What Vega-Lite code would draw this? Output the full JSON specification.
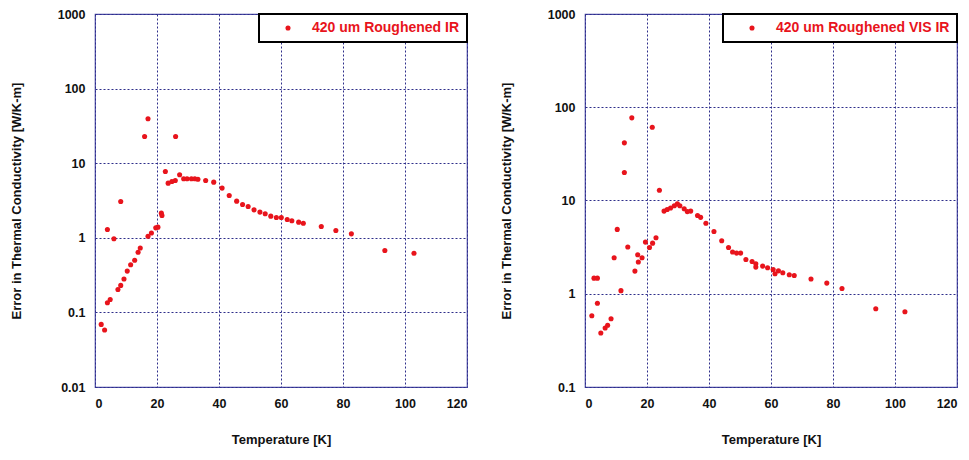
{
  "$schema": "https://vega.github.io/schema/vega-lite/v6.json",
  "background": "white",
  "padding": {"left": 9, "top": 7, "right": 5, "bottom": 5},
  "spacing": 30,
  "datasets": {
    "ir": [
      {"T": 2.0, "err": 0.069}, {"T": 3.1, "err": 0.058}, {"T": 4.0, "err": 0.135}, {"T": 4.9, "err": 0.149},
      {"T": 4.0, "err": 1.29}, {"T": 6.1, "err": 0.97}, {"T": 7.4, "err": 0.203}, {"T": 8.3, "err": 0.23},
      {"T": 8.3, "err": 3.07}, {"T": 9.35, "err": 0.28}, {"T": 10.4, "err": 0.358}, {"T": 11.5, "err": 0.435},
      {"T": 12.8, "err": 0.5}, {"T": 13.9, "err": 0.64}, {"T": 14.6, "err": 0.73}, {"T": 16.0, "err": 22.8},
      {"T": 17.1, "err": 39.4}, {"T": 17.1, "err": 1.05}, {"T": 18.2, "err": 1.16}, {"T": 19.6, "err": 1.36},
      {"T": 20.3, "err": 1.39}, {"T": 21.4, "err": 2.14}, {"T": 21.6, "err": 1.99}, {"T": 22.7, "err": 7.74},
      {"T": 23.6, "err": 5.4}, {"T": 24.8, "err": 5.69}, {"T": 25.9, "err": 5.87}, {"T": 26.0, "err": 22.8},
      {"T": 27.3, "err": 7.0}, {"T": 28.6, "err": 6.2}, {"T": 29.7, "err": 6.2}, {"T": 31.1, "err": 6.2},
      {"T": 32.2, "err": 6.2}, {"T": 33.2, "err": 6.1}, {"T": 35.7, "err": 5.87}, {"T": 38.3, "err": 5.57},
      {"T": 41.0, "err": 4.64}, {"T": 43.3, "err": 3.69}, {"T": 45.7, "err": 3.1}, {"T": 47.6, "err": 2.79},
      {"T": 49.4, "err": 2.63}, {"T": 51.3, "err": 2.37}, {"T": 53.2, "err": 2.21}, {"T": 54.9, "err": 2.1},
      {"T": 56.7, "err": 1.95}, {"T": 58.5, "err": 1.87}, {"T": 60.1, "err": 1.87}, {"T": 62.0, "err": 1.76},
      {"T": 63.5, "err": 1.69}, {"T": 65.7, "err": 1.62}, {"T": 67.2, "err": 1.57}, {"T": 73.0, "err": 1.42},
      {"T": 77.7, "err": 1.25}, {"T": 82.7, "err": 1.13}, {"T": 93.5, "err": 0.675}, {"T": 102.9, "err": 0.62}
    ],
    "visir": [
      {"T": 2.2, "err": 0.58}, {"T": 2.9, "err": 1.47}, {"T": 4.0, "err": 1.47}, {"T": 4.0, "err": 0.79},
      {"T": 5.1, "err": 0.38}, {"T": 6.5, "err": 0.43}, {"T": 7.3, "err": 0.46}, {"T": 8.4, "err": 0.54},
      {"T": 9.4, "err": 2.43}, {"T": 10.4, "err": 4.9}, {"T": 11.6, "err": 1.08}, {"T": 12.7, "err": 20},
      {"T": 12.7, "err": 41.5}, {"T": 13.8, "err": 3.17}, {"T": 15.1, "err": 77}, {"T": 16.1, "err": 1.75},
      {"T": 17.0, "err": 2.62}, {"T": 17.2, "err": 2.19}, {"T": 18.4, "err": 2.43}, {"T": 19.5, "err": 3.58},
      {"T": 20.8, "err": 3.13}, {"T": 21.7, "err": 61}, {"T": 21.8, "err": 3.49}, {"T": 22.9, "err": 3.98},
      {"T": 24.0, "err": 12.9}, {"T": 25.5, "err": 7.7}, {"T": 26.5, "err": 8.0}, {"T": 27.6, "err": 8.3},
      {"T": 28.8, "err": 8.8}, {"T": 29.8, "err": 9.2}, {"T": 30.6, "err": 8.8}, {"T": 32.0, "err": 8.15},
      {"T": 33.0, "err": 7.6}, {"T": 34.1, "err": 7.7}, {"T": 36.3, "err": 6.9}, {"T": 37.3, "err": 6.6},
      {"T": 39.0, "err": 5.7}, {"T": 41.6, "err": 4.65}, {"T": 44.1, "err": 3.7}, {"T": 46.3, "err": 3.13},
      {"T": 47.6, "err": 2.8}, {"T": 48.9, "err": 2.73}, {"T": 50.2, "err": 2.73}, {"T": 51.9, "err": 2.33},
      {"T": 53.9, "err": 2.22}, {"T": 55.1, "err": 2.1}, {"T": 55.1, "err": 1.93}, {"T": 57.3, "err": 1.98},
      {"T": 58.9, "err": 1.9}, {"T": 60.7, "err": 1.82}, {"T": 61.3, "err": 1.64}, {"T": 62.4, "err": 1.76},
      {"T": 63.8, "err": 1.68}, {"T": 65.9, "err": 1.6}, {"T": 67.5, "err": 1.57}, {"T": 72.9, "err": 1.44},
      {"T": 78.0, "err": 1.3}, {"T": 82.9, "err": 1.14}, {"T": 93.8, "err": 0.69}, {"T": 103.2, "err": 0.64}
    ]
  },
  "hconcat": [
    {
      "width": 372,
      "height": 373,
      "data": {"name": "ir"},
      "transform": [{"calculate": "'420 um Roughened IR'", "as": "series"}],
      "mark": {"type": "point", "filled": true, "size": 26, "opacity": 1},
      "encoding": {
        "x": {"field": "T", "type": "quantitative", "title": "Temperature [K]",
              "scale": {"domain": [0, 120], "nice": false},
              "axis": {"values": [0, 20, 40, 60, 80, 100, 120]}},
        "y": {"field": "err", "type": "quantitative", "title": "Error in Thermal Conductivity [W/K-m]",
              "scale": {"type": "log", "domain": [0.01, 1000], "nice": false},
              "axis": {"values": [0.01, 0.1, 1, 10, 100, 1000], "format": "~g"}},
        "color": {"field": "series", "type": "nominal",
                  "scale": {"range": ["#e8141c"]},
                  "legend": {"title": null, "orient": "top-right", "offset": 0}}
      }
    },
    {
      "width": 372,
      "height": 373,
      "data": {"name": "visir"},
      "transform": [{"calculate": "'420 um Roughened VIS IR'", "as": "series"}],
      "mark": {"type": "point", "filled": true, "size": 26, "opacity": 1},
      "encoding": {
        "x": {"field": "T", "type": "quantitative", "title": "Temperature [K]",
              "scale": {"domain": [0, 120], "nice": false},
              "axis": {"values": [0, 20, 40, 60, 80, 100, 120]}},
        "y": {"field": "err", "type": "quantitative", "title": "Error in Thermal Conductivity [W/K-m]",
              "scale": {"type": "log", "domain": [0.1, 1000], "nice": false},
              "axis": {"values": [0.1, 1, 10, 100, 1000], "format": "~g"}},
        "color": {"field": "series", "type": "nominal",
                  "scale": {"range": ["#e8141c"]},
                  "legend": {"title": null, "orient": "top-right", "offset": 0}}
      }
    }
  ],
  "resolve": {"scale": {"color": "independent", "x": "independent", "y": "independent"}, "legend": {"color": "independent"}},
  "config": {
    "font": "Liberation Sans",
    "view": {"stroke": "#4a4aa6", "strokeWidth": 1.2},
    "axis": {
      "domain": false,
      "ticks": false,
      "grid": true,
      "gridColor": "#2e2e8a",
      "gridDash": [2, 2],
      "gridWidth": 1,
      "labelFont": "Liberation Sans",
      "labelFontSize": 12.5,
      "labelFontWeight": "bold",
      "labelColor": "#111111",
      "labelPadding": 10,
      "titleFont": "Liberation Sans",
      "titleFontSize": 13,
      "titleFontWeight": "bold",
      "titleColor": "#111111"
    },
    "axisX": {"titlePadding": 24},
    "axisY": {"titlePadding": 34},
    "legend": {
      "fillColor": "white",
      "strokeColor": "#000000",
      "strokeWidth": 2,
      "padding": 7,
      "symbolOffset": 15,
      "labelOffset": 17,
      "labelLimit": 400,
      "labelFont": "Liberation Sans",
      "labelFontSize": 14,
      "labelFontWeight": "bold",
      "labelColor": "#e8141c",
      "symbolSize": 26,
      "symbolType": "circle"
    }
  }
}
